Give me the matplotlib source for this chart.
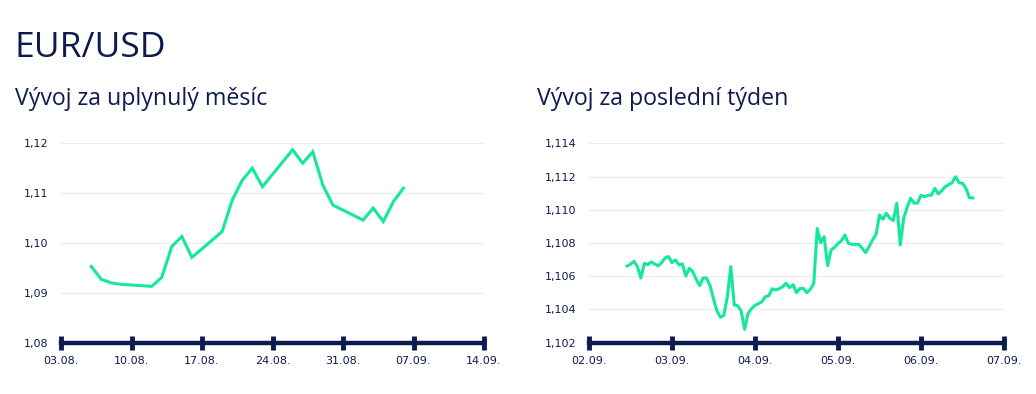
import numpy as np
import pandas as pd
import matplotlib
matplotlib.use("Agg")
import matplotlib.pyplot as plt
import matplotlib.dates as mdates

# monthly series (daily closes, weekdays only)
month_dates = ["2019-08-06", "2019-08-07", "2019-08-08", "2019-08-09", "2019-08-12",
               "2019-08-13", "2019-08-14", "2019-08-15", "2019-08-16", "2019-08-19",
               "2019-08-20", "2019-08-21", "2019-08-22", "2019-08-23", "2019-08-26",
               "2019-08-27", "2019-08-28", "2019-08-29", "2019-08-30", "2019-09-02",
               "2019-09-03", "2019-09-04", "2019-09-05", "2019-09-06"]
month_vals = [1.0953, 1.0927, 1.0920, 1.0917, 1.0913,
              1.0931, 1.0993, 1.1013, 1.0971, 1.1023,
              1.1086, 1.1126, 1.1150, 1.1113, 1.1187,
              1.1160, 1.1183, 1.1116, 1.1076, 1.1046,
              1.1070, 1.1043, 1.1083, 1.1110]

# weekly series (hourly, from 02.09. 11:00)
week_start = "2019-09-02 11:00"
week_vals = [1.10662, 1.10672, 1.10690, 1.10658, 1.10589, 1.10678, 1.10670, 1.10686, 1.10674, 1.10662,
             1.10682, 1.10710, 1.10718, 1.10682, 1.10698, 1.10668, 1.10674, 1.10601, 1.10648, 1.10627,
             1.10581, 1.10543, 1.10589, 1.10589, 1.10543, 1.10465, 1.10391, 1.10353, 1.10365, 1.10477,
             1.10658, 1.10427, 1.10423, 1.10391, 1.10280, 1.10377, 1.10405, 1.10425, 1.10435, 1.10447,
             1.10477, 1.10483, 1.10525, 1.10517, 1.10525, 1.10537, 1.10557, 1.10531, 1.10549, 1.10501,
             1.10527, 1.10527, 1.10501, 1.10521, 1.10557, 1.10888, 1.10802, 1.10838, 1.10664, 1.10758,
             1.10774, 1.10796, 1.10814, 1.10848, 1.10798, 1.10792, 1.10792, 1.10792, 1.10768, 1.10742,
             1.10778, 1.10818, 1.10852, 1.10969, 1.10943, 1.10979, 1.10949, 1.10935, 1.11040, 1.10788,
             1.10949, 1.11015, 1.11069, 1.11040, 1.11040, 1.11087, 1.11079, 1.11087, 1.11087, 1.11129,
             1.11095, 1.11115, 1.11139, 1.11151, 1.11163, 1.11199, 1.11163, 1.11159, 1.11129, 1.11073,
             1.11071]

month_ticks = ["2019-08-03", "2019-08-10", "2019-08-17", "2019-08-24",
               "2019-08-31", "2019-09-07", "2019-09-14"]
month_yticks = [1.08, 1.09, 1.10, 1.11, 1.12]
week_ticks = ["2019-09-02", "2019-09-03", "2019-09-04", "2019-09-05",
              "2019-09-06", "2019-09-07"]
week_yticks = [1.102, 1.104, 1.106, 1.108, 1.110, 1.112, 1.114]

navy = "#0d1b4f"
green = "#14e89b"

W, H = 1036, 394
fig = plt.figure(figsize=(W / 100, H / 100), dpi=100)

def box(x0, x1, ytop, ybot):
    return [x0 / W, 1 - ybot / H, (x1 - x0) / W, (ybot - ytop) / H]

def style(ax, ticks, yticks, ydec):
    ax.set_xlim(pd.Timestamp(ticks[0]), pd.Timestamp(ticks[-1]))
    ax.set_ylim(yticks[0], yticks[-1])
    ax.set_xticks(pd.to_datetime(ticks))
    ax.xaxis.set_major_formatter(mdates.DateFormatter("%d.%m."))
    ax.set_yticks(yticks)
    ax.set_yticklabels([f"{v:.{ydec}f}".replace(".", ",") for v in yticks])
    for s in ["top", "right", "left"]:
        ax.spines[s].set_visible(False)
    ax.spines["bottom"].set_color(navy)
    ax.spines["bottom"].set_linewidth(3.2)
    ax.tick_params(axis="x", direction="inout", length=10, width=3.5, color=navy,
                   labelcolor=navy, labelsize=8, pad=4.5)
    ax.tick_params(axis="y", length=0, labelcolor=navy, labelsize=8, pad=9)
    ax.grid(axis="y", color="#ececec", lw=0.9)
    ax.set_axisbelow(True)
    for lab in ax.get_xticklabels() + ax.get_yticklabels():
        lab.set_fontfamily("DejaVu Sans")

ax1 = fig.add_axes(box(61, 484, 143.3, 342.7))
ax1.plot(pd.to_datetime(month_dates), month_vals, color=green, lw=2.2, solid_joinstyle="miter")
style(ax1, month_ticks, month_yticks, 2)

ax2 = fig.add_axes(box(589, 1004, 143.3, 342.7))
week_times = pd.date_range(week_start, periods=len(week_vals), freq="h")
ax2.plot(week_times, week_vals, color=green, lw=2.2)
style(ax2, week_ticks, week_yticks, 3)

fig.text(15 / W, 1 - 57 / H, "EUR/USD", fontsize=25.5, color=navy, family="Open Sans", va="baseline")
fig.text(15 / W, 1 - 105 / H, "Vývoj za uplynulý měsíc", fontsize=16.7, color=navy,
         family="Open Sans", va="baseline")
fig.text(537 / W, 1 - 105 / H, "Vývoj za poslední týden", fontsize=16.7, color=navy,
         family="Open Sans", va="baseline")

fig.savefig("out.png", dpi=100, facecolor="white")
